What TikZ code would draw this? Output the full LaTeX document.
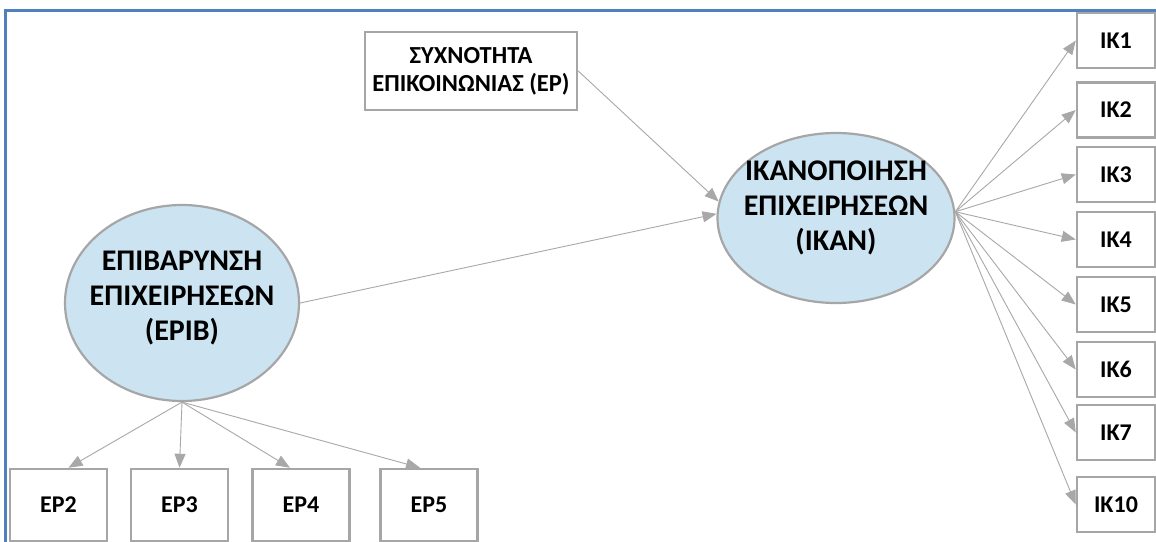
\documentclass[tikz,border=0pt]{standalone}
\usepackage{fontspec}
\setmainfont{Carlito}
\usetikzlibrary{shapes.geometric,arrows.meta,calc}
\definecolor{framec}{HTML}{4F81BD}
\definecolor{boxc}{HTML}{A6A6A6}
\definecolor{arrc}{HTML}{A8A8A8}
\definecolor{latc}{HTML}{CCE4F2}
\tikzset{
  latent/.style={ellipse,draw=boxc,line width=2.2pt,fill=latc,inner sep=0pt},
  latenttext/.style={align=center,inner sep=0pt,font=\fontsize{30}{35}\selectfont\bfseries},
  obsbox/.style={rectangle,draw=boxc,line width=2.5pt,fill=white,inner sep=0pt,align=center,
    font=\fontsize{24}{26}\selectfont\bfseries},
  conn/.style={draw=arrc,line width=0.9pt,-{Triangle[length=14pt,width=11pt,fill=arrc]}},
}
\begin{document}
\begin{tikzpicture}[x=1pt,y=-1pt]
\useasboundingbox (0,0) rectangle (1156,541);
\clip (0,0) rectangle (1156,541);
\fill[white] (0,0) rectangle (1156,541);
\draw[framec,line width=3pt] (5,560) -- (5,10) -- (1170,10);

\node[latent,minimum width=234pt,minimum height=196pt,
  label={[latenttext,yshift=5pt]center:ΕΠΙΒΑΡΥΝΣΗ\\ΕΠΙΧΕΙΡΗΣΕΩΝ\\(EPIB)}] (epib) at (182,303) {};
\node[latent,minimum width=237pt,minimum height=170pt,
  label={[latenttext,yshift=10pt]center:ΙΚΑΝΟΠΟΙΗΣΗ\\ΕΠΙΧΕΙΡΗΣΕΩΝ\\(IKAN)}] (ikan) at (836,218) {};
\node[obsbox,minimum width=212pt,minimum height=78pt,font=\fontsize{24.5}{28}\selectfont\bfseries] (syx) at (471,71)
  {ΣΥΧΝΟΤΗΤΑ\\ΕΠΙΚΟΙΝΩΝΙΑΣ (EP)};

\foreach \n/\y in {IK1/40.5,IK2/110,IK3/174.5,IK4/239.5,IK5/304.5,IK6/369.5,IK7/432.5,IK10/504.5}
  \node[obsbox,minimum width=78pt,minimum height=55pt] (\n) at (1116,\y) {\n};

\foreach \n/\x in {EP2/58.5,EP3/179.5,EP4/301,EP5/429}
  \node[obsbox,minimum width=97pt,minimum height=72pt] (\n) at (\x,505) {\n};

\coordinate (hub) at (ikan.3);
\foreach \n in {IK1,IK2,IK3,IK4,IK5,IK6,IK7,IK10}
  \draw[conn] (hub) -- (\n.west);

\draw[conn] (epib.south) -- ($(EP2.north)+(10,0)$);
\draw[conn] (epib.south) -- (EP3.north);
\draw[conn] (epib.south) -- ($(EP4.north)+(-11,0)$);
\draw[conn] (epib.south) -- ($(EP5.north)+(-9,0)$);

\draw[conn] (syx.east) -- (ikan.172);
\draw[conn] (epib.east) -- (ikan.178);
\end{tikzpicture}
\end{document}
